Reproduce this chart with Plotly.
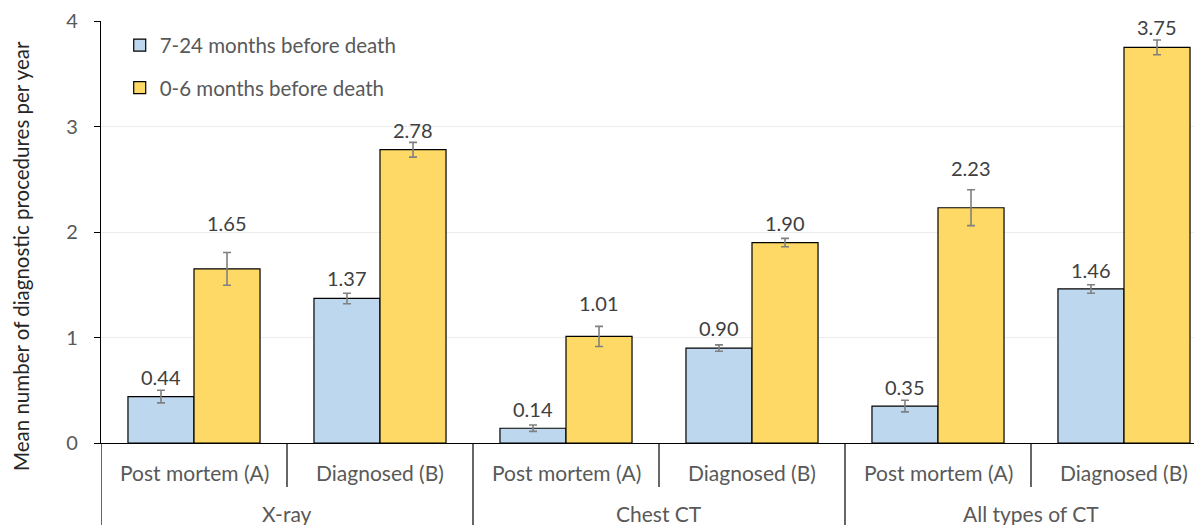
import plotly.graph_objects as go

# ---- data ----
groups = ["X-ray", "Chest CT", "All types of CT"]
subcats = ["Post mortem (A)", "Diagnosed (B)"]
series_names = ["7-24 months before death", "0-6 months before death"]
early_vals = [0.44, 1.37, 0.14, 0.90, 0.35, 1.46]
early_err = [0.06, 0.05, 0.03, 0.03, 0.055, 0.04]
late_vals = [1.65, 2.78, 1.01, 1.90, 2.23, 3.75]
late_err = [0.155, 0.07, 0.095, 0.04, 0.17, 0.07]
y_ticks = [0, 1, 2, 3, 4]

# ---- styling / label placement (pixels above bar top) ----
early_label_lift = [20, 20, 19, 20, 19, 19]
late_label_lift = [46, 20, 33, 20, 40, 20]

colors = ["#BDD7EE", "#FFD966"]
FONT = "Lato, Carlito, Calibri, sans-serif"
OFF = 8  # page body margin
W, H = 1202 - OFF, 525 - OFF
PL, PR, PT, PB = 101, 1202, 21, 443
L, T = PL - OFF, PT - OFF
R = 0
B = H - (PB - OFF)
bar_w = 0.355

n = len(early_vals)
xc = list(range(n))
x_early = [x - bar_w / 2 for x in xc]
x_late = [x + bar_w / 2 for x in xc]

fig = go.Figure()
annotations = []
series = [(x_early, early_vals, early_err, early_label_lift),
          (x_late, late_vals, late_err, late_label_lift)]
for i, (xs, vals, errs, lifts) in enumerate(series):
    fig.add_trace(go.Bar(
        x=xs, y=vals, width=bar_w, name=series_names[i], legendgroup=f"g{i}",
        marker=dict(color=colors[i], line=dict(color="#000000", width=1.2)),
        error_y=dict(type="data", array=errs, visible=True, color="#808080", thickness=1.6, width=4),
    ))
    for x, v, lift in zip(xs, vals, lifts):
        annotations.append(dict(x=x, y=v, xref="x", yref="y", text=f"{v:.2f}", showarrow=False,
                                yshift=lift, xanchor="center", yanchor="middle",
                                font=dict(family=FONT, size=20, color="#404040")))

plot_h = PB - PT
def py(pix):  # page pixel y -> paper y
    return (PB - pix) / plot_h

shapes = []
for k in range(n):
    annotations.append(dict(x=xc[k], y=py(472), xref="x", yref="paper", text=subcats[k % 2],
                            showarrow=False, font=dict(family=FONT, size=21, color="#595959"),
                            xanchor="center", yanchor="middle"))
for k in range(n):
    left = xc[k] - 0.5
    long_line = (k % 2 == 0)
    shapes.append(dict(type="line", xref="x", yref="paper", x0=left, x1=left,
                       y0=0, y1=py(526) if long_line else py(487),
                       line=dict(color="#000000", width=1.2)))
for g, name in enumerate(groups):
    annotations.append(dict(x=2 * g + 0.5, y=py(514), xref="x", yref="paper", text=name,
                            showarrow=False, font=dict(family=FONT, size=21, color="#595959"),
                            xanchor="center", yanchor="middle"))
annotations.append(dict(x=(21 - PL) / (PR - PL), y=py(256), xref="paper", yref="paper",
                        text="Mean number of diagnostic procedures per year", textangle=-90,
                        showarrow=False, font=dict(family=FONT, size=20.5, color="#262626"),
                        xanchor="center", yanchor="middle"))

x_right = -0.5 + (PR - PL) / 186.0

fig.update_layout(
    width=W, height=H, margin=dict(l=L, r=R, t=T, b=B),
    paper_bgcolor="white", plot_bgcolor="white",
    barmode="overlay", showlegend=True,
    legend=dict(x=0.017, y=0.99, xanchor="left", yanchor="top", bgcolor="rgba(0,0,0,0)",
                font=dict(family=FONT, size=20.5, color="#595959"), tracegroupgap=13,
                itemwidth=30),
    xaxis=dict(range=[-0.5, x_right], showgrid=False, zeroline=False, showticklabels=False,
               showline=True, linecolor="#000000", linewidth=1.2, ticks=""),
    yaxis=dict(range=[0, 4], tickvals=y_ticks, showgrid=True, gridcolor="#ECECEC", gridwidth=1,
               zeroline=False, showline=True, linecolor="#000000", linewidth=1.2,
               ticks="outside", ticklen=6, tickcolor="#000000",
               tickfont=dict(family=FONT, size=20, color="#595959"), ticklabelstandoff=12),
    shapes=shapes, annotations=annotations,
)

fig.write_html("out.html")
